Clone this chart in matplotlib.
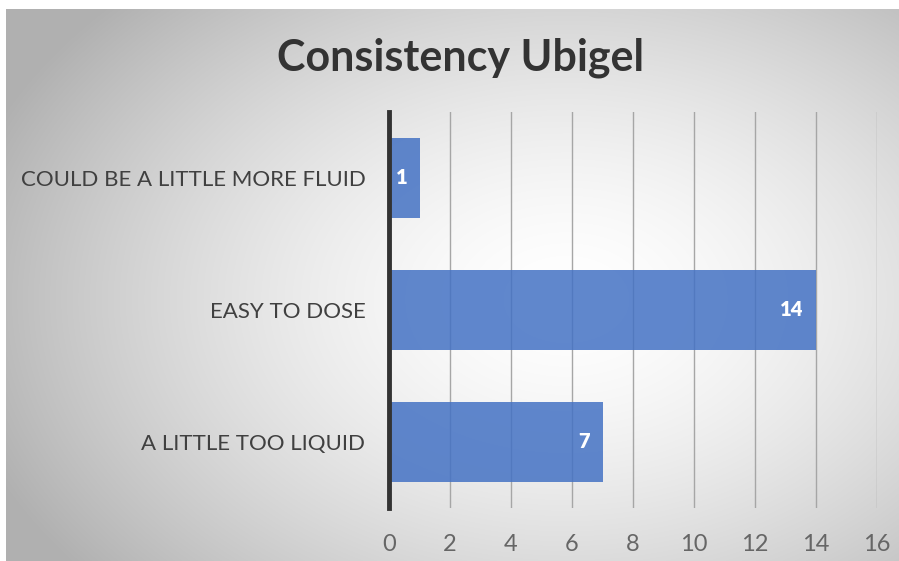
import numpy as np
import matplotlib
matplotlib.use('Agg')
import matplotlib.pyplot as plt

categories = ['A LITTLE TOO LIQUID', 'EASY TO DOSE', 'COULD BE A LITTLE MORE FLUID']
counts = [7, 14, 1]
xticks = [0, 2, 4, 6, 8, 10, 12, 14, 16]
title = 'Consistency Ubigel'

plt.rcParams['font.family'] = ['Lato', 'DejaVu Sans']

W, H = 899, 561
fig = plt.figure(figsize=(W/100, H/100), dpi=100, facecolor='white')

# radial grey gradient behind everything (panel starts a few px in from top/left)
bg = fig.add_axes([6/W, 0, 1-6/W, 1-9/H], zorder=0)
yy, xx = np.mgrid[0:552, 0:893]
cx, cy = 560, 290
r = np.sqrt(((xx-cx)/520.0)**2 + ((yy-cy)/360.0)**2)
g = 1.0 - 0.23*np.clip(r, 0, 1.2)**1.6
bg.imshow(np.dstack([g, g, g]), aspect='auto', interpolation='bilinear')
bg.axis('off')

ax = fig.add_axes([389/W, 1-508/H, (877-389)/W, (508-112)/H], zorder=1)
ax.patch.set_alpha(0)
ypos = np.arange(len(categories))
bars = ax.barh(ypos, counts, height=0.6, color='#4472C4', alpha=0.85, zorder=2)
for b, v in zip(bars, counts):
  ax.text(b.get_width()-0.4, b.get_y()+b.get_height()/2, str(v), ha='right',
          va='center', color='white', fontsize=14.5, fontweight='heavy', zorder=3)

ax.set_xlim(0, 16)
ax.set_ylim(-0.5, 2.5)
ax.set_xticks(xticks)
ax.set_yticks(ypos)
ax.set_yticklabels(categories)
ax.grid(axis='x', color='#a6a6a6', linewidth=1, zorder=1)
ax.set_axisbelow(True)
for s in ['top', 'right', 'bottom']:
  ax.spines[s].set_visible(False)
ax.spines['left'].set_color('#333333')
ax.spines['left'].set_linewidth(3.5)
ax.spines['left'].set_zorder(4)
ax.tick_params(axis='x', length=0, pad=19, labelsize=17, labelcolor='#666666')
ax.tick_params(axis='y', length=0, pad=17, labelsize=16, labelcolor='#404040')

fig.text(461/W, 1-58/H, title, ha='center', va='center', fontsize=31,
         fontweight='bold', color='#333333')

fig.savefig('out.png', dpi=100)
